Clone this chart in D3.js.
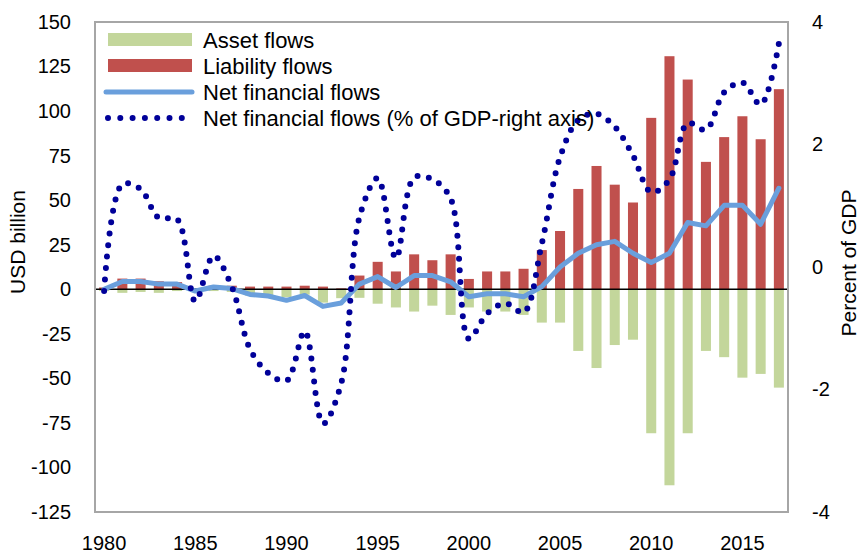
<!DOCTYPE html>
<html>
<head>
<meta charset="utf-8">
<script src="https://cdn.jsdelivr.net/npm/d3@7"></script>
<style>
  body { margin: 0; background: #fff; }
  text { font-family: "Liberation Sans", Arial, sans-serif; fill: #000; }
</style>
</head>
<body>
<script>
const width = 862;
const height = 555;

// Data
const years = d3.range(1980, 2018);
const assetFlows = [-1, -2, -1.5, -2, -1, -1, -1, -1.5, -3.5, -4, -4.5, -3, -7.5, -5,
  -4.8, -8.1, -10.2, -12.5, -9.2, -14.4, -10.2, -12.5, -12.5, -14.4,
  -18.7, -18.7, -34.6, -44.2, -31.3, -28.3, -80.8, -110, -80.8, -34.6, -38.1, -49.6, -47.5, -55.2];
const liabilityFlows = [1, 6, 6, 4.5, 4, 0.5, 2, 2, 1.5, 1.5, 1.5, 2, 1.5, 0.5,
  7.7, 15.4, 10, 19.6, 16.3, 19.6, 5.8, 10, 10, 11.5,
  22, 32.7, 56.3, 69.2, 58.7, 48.7, 96.2, 130.8, 117.7, 71.5, 85.4, 97.1, 84.2, 112.3];
const netFlows = [0, 4.4, 4.4, 2.9, 2.9, -1, 1.3, 0.4, -2.9, -3.8, -6.2, -3.5, -9.6, -7.7,
  2.9, 7.1, 1, 7.7, 7.7, 4.2, -4.2, -2.5, -2.5, -4.2,
  1.5, 12.5, 20.2, 25, 26.9, 20.2, 15, 20.2, 37.5, 35.6, 47.1, 47.1, 36.5, 56.7];
const netFlowsGdp = [-0.39, 1.35, 1.27, 0.8, 0.78, -0.56, 0.18, -0.32, -1.34, -1.73, -1.86, -1.05, -2.56, -1.9,
  0.81, 1.45, 0.14, 1.46, 1.43, 1.12, -1.17, -0.76, -0.59, -0.74,
  0.38, 1.79, 2.4, 2.5, 2.29, 1.82, 1.22, 1.43, 2.35, 2.24, 2.85, 3.01, 2.65, 3.65];
const leftTicks = [150, 125, 100, 75, 50, 25, 0, -25, -50, -75, -100, -125];
const rightTicks = [4, 2, 0, -2, -4];
const xTickYears = [1980, 1985, 1990, 1995, 2000, 2005, 2010, 2015];

const legendItems = [
  { label: "Asset flows", type: "bar", color: "#C3D69B" },
  { label: "Liability flows", type: "bar", color: "#C0504D" },
  { label: "Net financial flows", type: "line", color: "#6A9FDC" },
  { label: "Net financial flows (% of GDP-right axis)", type: "dots", color: "#000099" }
];

const plot = { left: 95, right: 788, top: 22, bottom: 512 };

const svg = d3.select("body")
  .append("svg")
  .attr("width", width)
  .attr("height", height);

const x = d3.scaleBand()
  .domain(years)
  .range([plot.left, plot.right])
  .paddingInner(0.45)
  .paddingOuter(0.225);

const y = d3.scaleLinear().domain([-125, 150]).range([plot.bottom, plot.top]);
const yRight = d3.scaleLinear().domain([-4, 4]).range([plot.bottom, plot.top]);

const cx = d => x(d) + x.bandwidth() / 2;
const plain = d => String(d);  // hyphen minus like the original

// Bars
svg.append("g").selectAll("rect")
  .data(years)
  .enter()
  .append("rect")
  .attr("x", d => x(d))
  .attr("width", x.bandwidth())
  .attr("y", y(0))
  .attr("height", (d, i) => y(assetFlows[i]) - y(0))
  .attr("fill", "#C3D69B");

svg.append("g").selectAll("rect")
  .data(years)
  .enter()
  .append("rect")
  .attr("x", d => x(d))
  .attr("width", x.bandwidth())
  .attr("y", (d, i) => y(liabilityFlows[i]))
  .attr("height", (d, i) => y(0) - y(liabilityFlows[i]))
  .attr("fill", "#C0504D");

// Zero line
svg.append("line")
  .attr("x1", plot.left).attr("x2", plot.right)
  .attr("y1", y(0)).attr("y2", y(0))
  .attr("stroke", "#000").attr("stroke-width", 1.5);

// Net flows line
const netLine = d3.line()
  .x((d, i) => cx(years[i]))
  .y(d => y(d));

svg.append("path")
  .datum(netFlows)
  .attr("d", netLine)
  .attr("fill", "none")
  .attr("stroke", "#6A9FDC")
  .attr("stroke-width", 5)
  .attr("stroke-linejoin", "round")
  .attr("stroke-linecap", "round");

// Net flows % GDP (smoothed, dotted)
const gdpLine = d3.line()
  .x((d, i) => cx(years[i]))
  .y(d => yRight(d))
  .curve(d3.curveCatmullRom.alpha(0.5));

svg.append("path")
  .datum(netFlowsGdp)
  .attr("d", gdpLine)
  .attr("fill", "none")
  .attr("stroke", "#000099")
  .attr("stroke-width", 6)
  .attr("stroke-linecap", "round")
  .attr("stroke-dasharray", "0 11.5");

// Plot frame
svg.append("rect")
  .attr("x", plot.left).attr("y", plot.top)
  .attr("width", plot.right - plot.left)
  .attr("height", plot.bottom - plot.top)
  .attr("fill", "none")
  .attr("stroke", "#A6A6A6")
  .attr("stroke-width", 2);

// Left axis
const leftAxis = svg.append("g")
  .attr("transform", `translate(${plot.left},0)`)
  .call(d3.axisLeft(y).tickValues(leftTicks).tickFormat(plain).tickSize(0).tickPadding(24));
leftAxis.select(".domain").remove();
leftAxis.selectAll("text").style("font-size", "20px").style("font-family", "Liberation Sans, Arial, sans-serif");

// Right axis
const rightAxis = svg.append("g")
  .attr("transform", `translate(${plot.right},0)`)
  .call(d3.axisRight(yRight).tickValues(rightTicks).tickFormat(plain).tickSize(0).tickPadding(24));
rightAxis.select(".domain").remove();
rightAxis.selectAll("text").style("font-size", "20px").style("font-family", "Liberation Sans, Arial, sans-serif");

// Bottom axis
const bottomAxis = svg.append("g")
  .attr("transform", `translate(0,${plot.bottom})`)
  .call(d3.axisBottom(x).tickValues(xTickYears).tickFormat(plain).tickSize(0).tickPadding(24));
bottomAxis.select(".domain").remove();
bottomAxis.selectAll("text").style("font-size", "20px").style("font-family", "Liberation Sans, Arial, sans-serif");

// Axis titles
svg.append("text")
  .attr("transform", `translate(25,${(plot.top + plot.bottom) / 2 - 25}) rotate(-90)`)
  .attr("text-anchor", "middle")
  .style("font-size", "21px")
  .text("USD billion");

svg.append("text")
  .attr("transform", `translate(849,${yRight(0) - 4}) rotate(-90)`)
  .attr("text-anchor", "middle")
  .attr("dy", "0.35em")
  .style("font-size", "21px")
  .text("Percent of GDP");

// Legend
const legend = svg.append("g").attr("transform", "translate(108,40)");
const rowH = 26;
legendItems.forEach((item, i) => {
  const g = legend.append("g").attr("transform", `translate(0,${i * rowH})`);
  if (item.type === "bar") {
    g.append("rect").attr("x", 0).attr("y", -7).attr("width", 84).attr("height", 13).attr("fill", item.color);
  } else if (item.type === "line") {
    g.append("line").attr("x1", -2).attr("x2", 84).attr("y1", 0).attr("y2", 0)
      .attr("stroke", item.color).attr("stroke-width", 5).attr("stroke-linecap", "round");
  } else {
    g.append("line").attr("x1", 0).attr("x2", 84).attr("y1", 0).attr("y2", 0)
      .attr("stroke", item.color).attr("stroke-width", 6).attr("stroke-linecap", "round")
      .attr("stroke-dasharray", "0 12.3");
  }
  g.append("text")
    .attr("x", 95)
    .attr("dy", "0.35em")
    .style("font-size", "22px")
    .text(item.label);
});
</script>
</body>
</html>
